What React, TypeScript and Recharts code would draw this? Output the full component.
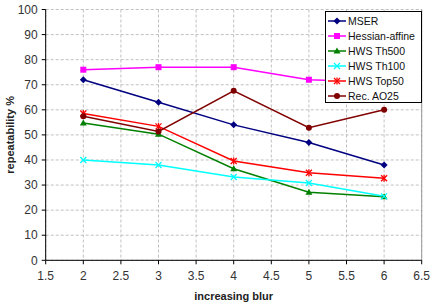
import React from "react";
import {
  LineChart,
  Line,
  CartesianGrid,
  XAxis,
  YAxis,
  ReferenceLine
} from "recharts";

const blur = [2, 3, 4, 5, 6];
const mser = [72, 63, 54, 47, 38];
const hessian = [76, 77, 77, 72, 71];
const th500 = [54.7, 50.3, 36.5, 27.1, 25.3];
const th100 = [40, 38, 33.2, 30.8, 25.5];
const top50 = [58.5, 53.4, 39.6, 34.9, 32.7];
const ao25 = [57.4, 51.4, 67.6, 52.9, 60];

const xTicks = [1.5, 2, 2.5, 3, 3.5, 4, 4.5, 5, 5.5, 6, 6.5];
const yTicks = [0, 10, 20, 30, 40, 50, 60, 70, 80, 90, 100];

const data = blur.map((b, i) => ({
  blur: b,
  mser: mser[i],
  hessian: hessian[i],
  th500: th500[i],
  th100: th100[i],
  top50: top50[i],
  ao25: ao25[i]
}));

const font = "Liberation Sans, Arial, sans-serif";

type Shape = "diamond" | "square" | "triangle" | "x" | "star" | "circle";

const Marker = ({ cx, cy, shape, color }: { cx: number; cy: number; shape: Shape; color: string }) => {
  if (cx == null || cy == null) return null;
  switch (shape) {
    case "diamond":
      return <polygon points={`${cx},${cy - 3.5} ${cx + 3.5},${cy} ${cx},${cy + 3.5} ${cx - 3.5},${cy}`} fill={color} />;
    case "square":
      return <rect x={cx - 3} y={cy - 3} width={6} height={6} fill={color} />;
    case "triangle":
      return <polygon points={`${cx},${cy - 3.5} ${cx + 3.5},${cy + 2.5} ${cx - 3.5},${cy + 2.5}`} fill={color} />;
    case "x":
      return (
        <g stroke={color} strokeWidth={1.3}>
          <line x1={cx - 3} y1={cy - 3} x2={cx + 3} y2={cy + 3} />
          <line x1={cx - 3} y1={cy + 3} x2={cx + 3} y2={cy - 3} />
        </g>
      );
    case "star":
      return (
        <g stroke={color} strokeWidth={1.3}>
          <line x1={cx - 3} y1={cy - 3} x2={cx + 3} y2={cy + 3} />
          <line x1={cx - 3} y1={cy + 3} x2={cx + 3} y2={cy - 3} />
          <line x1={cx} y1={cy - 3.5} x2={cx} y2={cy + 3.5} />
        </g>
      );
    default:
      return <circle cx={cx} cy={cy} r={3} fill={color} />;
  }
};

const series: { key: string; name: string; color: string; shape: Shape }[] = [
  { key: "mser", name: "MSER", color: "#000080", shape: "diamond" },
  { key: "hessian", name: "Hessian-affine", color: "#ff00ff", shape: "square" },
  { key: "th500", name: "HWS Th500", color: "#008000", shape: "triangle" },
  { key: "th100", name: "HWS Th100", color: "#00ffff", shape: "x" },
  { key: "top50", name: "HWS Top50", color: "#ff0000", shape: "star" },
  { key: "ao25", name: "Rec. AO25", color: "#800000", shape: "circle" }
];

const LegendBox = () => (
  <div
    style={{
      position: "absolute",
      left: 325,
      top: 11,
      width: 97,
      height: 92,
      border: "1px solid #000",
      background: "#fff",
      fontFamily: font,
      fontSize: 10.5,
      color: "#111",
      paddingTop: 1,
      boxSizing: "border-box",
      whiteSpace: "nowrap"
    }}
  >
    {series.map((s) => (
      <div key={s.key} style={{ display: "flex", alignItems: "center", height: 15 }}>
        <svg width={20} height={10} style={{ marginLeft: 1, marginRight: 1, flexShrink: 0 }}>
          <line x1={1} y1={5} x2={19} y2={5} stroke={s.color} strokeWidth={1.5} />
          <Marker cx={10} cy={5} shape={s.shape} color={s.color} />
        </svg>
        <span>{s.name}</span>
      </div>
    ))}
  </div>
);

export default function App() {
  return (
    <div style={{ position: "absolute", left: 0, top: 0, width: 430, height: 306, background: "#fff" }}>
      <LineChart width={430} height={306} data={data} margin={{ top: 9.5, right: 8.3, left: 0, bottom: 0 }}>
        <CartesianGrid stroke="#c0c0c0" strokeDasharray="3 2" />
        <XAxis
          dataKey="blur"
          type="number"
          domain={[1.5, 6.5]}
          ticks={xTicks}
          allowDecimals
          stroke="#000"
          tickSize={4}
          tickMargin={7}
          tick={{ fill: "#333", fontSize: 12, fontFamily: font }}
          height={45.7}
          label={{
            value: "increasing blur",
            position: "insideBottom",
            offset: 6,
            style: { fill: "#222", fontSize: 11, fontWeight: "bold", fontFamily: font }
          }}
        />
        <YAxis
          type="number"
          domain={[0, 100]}
          ticks={yTicks}
          stroke="#000"
          tickSize={4}
          tickMargin={4}
          width={45.7}
          tick={{ fill: "#333", fontSize: 12, fontFamily: font }}
          label={{
            value: "repeatability %",
            angle: -90,
            position: "insideLeft",
            offset: 10,
            style: { textAnchor: "middle", fill: "#222", fontSize: 11, fontWeight: "bold", fontFamily: font }
          }}
        />
        <ReferenceLine x={6.5} stroke="#999" />
        {series.map((s) => (
          <Line
            key={s.key}
            dataKey={s.key}
            name={s.name}
            stroke={s.color}
            strokeWidth={1.5}
            isAnimationActive={false}
            dot={(p: any) => <Marker key={`${s.key}-${p.index}`} cx={p.cx} cy={p.cy} shape={s.shape} color={s.color} />}
          />
        ))}
      </LineChart>
      <LegendBox />
    </div>
  );
}
